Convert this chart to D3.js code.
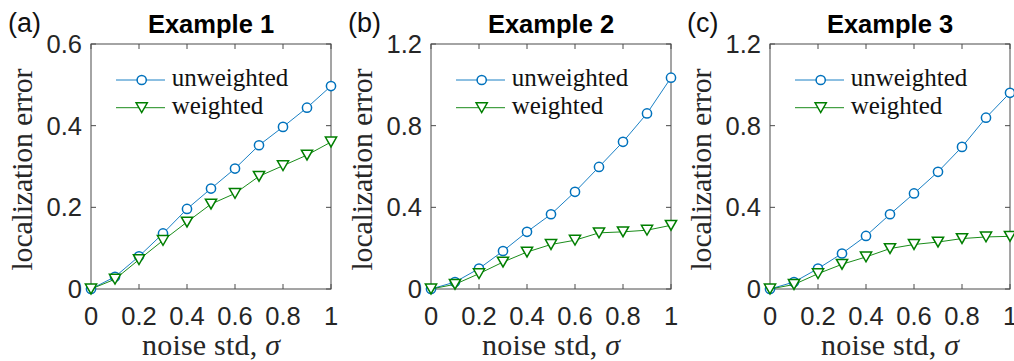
<!DOCTYPE html>
<html>
<head>
<meta charset="utf-8">
<script src="https://cdn.jsdelivr.net/npm/d3@7"></script>
<style>
  html, body { margin: 0; padding: 0; background: #fff; }
  svg { display: block; }
</style>
</head>
<body>
<svg id="chart" width="1014" height="361"></svg>
<script>
// noise levels (x) shared by every panel
const sigma = [0, 0.1, 0.2, 0.3, 0.4, 0.5, 0.6, 0.7, 0.8, 0.9, 1]
const xTicks = [0, 0.2, 0.4, 0.6, 0.8, 1]

const ex1Unweighted = [0, 0.030, 0.080, 0.136, 0.196, 0.246, 0.295, 0.352, 0.397, 0.444, 0.497]
const ex1Weighted = [0, 0.024, 0.072, 0.119, 0.164, 0.208, 0.234, 0.276, 0.302, 0.328, 0.360]
const ex2Unweighted = [0, 0.034, 0.100, 0.186, 0.280, 0.366, 0.476, 0.598, 0.721, 0.860, 1.035]
const ex2Weighted = [0, 0.023, 0.075, 0.132, 0.181, 0.218, 0.239, 0.275, 0.280, 0.288, 0.312]
const ex3Unweighted = [0, 0.034, 0.100, 0.174, 0.260, 0.366, 0.468, 0.574, 0.696, 0.839, 0.961]
const ex3Weighted = [0, 0.022, 0.075, 0.121, 0.157, 0.198, 0.218, 0.230, 0.247, 0.255, 0.258]

const yTicksSmall = [0, 0.2, 0.4, 0.6]
const yTicksLarge = [0, 0.4, 0.8, 1.2]

const panels = [
  { tag: '(a)', title: 'Example 1', left: 91, yMax: 0.6, yTicks: yTicksSmall, unweighted: ex1Unweighted, weighted: ex1Weighted },
  { tag: '(b)', title: 'Example 2', left: 431, yMax: 1.2, yTicks: yTicksLarge, unweighted: ex2Unweighted, weighted: ex2Weighted },
  { tag: '(c)', title: 'Example 3', left: 770, yMax: 1.2, yTicks: yTicksLarge, unweighted: ex3Unweighted, weighted: ex3Weighted }
]

const BLUE = '#0072BD'
const GREEN = '#007F00'
const AXIS = '#4a4a4a'
const SANS = 'Liberation Sans, Arial, Helvetica, sans-serif'
const SERIF = 'Liberation Serif, Times New Roman, serif'

const plotTop = 44
const plotW = 240
const plotH = 245
const tickLen = 5

const svg = d3.select('#chart')

const fmt = d => (d === 0 ? '0' : d === 1 ? '1' : String(d))

function triangle(g, cx, cy) {
  const w = 5.6, h = 4.9
  g.append('path')
    .attr('d', `M${cx - w},${cy - h}L${cx + w},${cy - h}L${cx},${cy + h}Z`)
    .attr('fill', '#fff')
    .attr('stroke', GREEN)
    .attr('stroke-width', 1.5)
}

panels.forEach(p => {
  const g = svg.append('g').attr('transform', `translate(${p.left},${plotTop})`)

  const x = d3.scaleLinear().domain([0, 1]).range([0, plotW])
  const y = d3.scaleLinear().domain([0, p.yMax]).range([plotH, 0])

  // box + inward ticks on all four sides
  g.append('rect')
    .attr('width', plotW).attr('height', plotH)
    .attr('fill', 'none').attr('stroke', AXIS).attr('stroke-width', 1)

  xTicks.forEach(t => {
    g.append('line').attr('x1', x(t)).attr('x2', x(t)).attr('y1', plotH).attr('y2', plotH - tickLen)
      .attr('stroke', AXIS)
    g.append('line').attr('x1', x(t)).attr('x2', x(t)).attr('y1', 0).attr('y2', tickLen)
      .attr('stroke', AXIS)
    g.append('text')
      .attr('x', x(t)).attr('y', plotH + 36)
      .attr('text-anchor', 'middle')
      .style('font-family', SANS).style('font-size', '25.5px').style('fill', '#262626')
      .text(fmt(t))
  })

  p.yTicks.forEach(t => {
    g.append('line').attr('x1', 0).attr('x2', tickLen).attr('y1', y(t)).attr('y2', y(t))
      .attr('stroke', AXIS)
    g.append('line').attr('x1', plotW).attr('x2', plotW - tickLen).attr('y1', y(t)).attr('y2', y(t))
      .attr('stroke', AXIS)
    g.append('text')
      .attr('x', -9).attr('y', y(t) + 9)
      .attr('text-anchor', 'end')
      .style('font-family', SANS).style('font-size', '25.5px').style('fill', '#262626')
      .text(fmt(t))
  })

  // labels
  g.append('text')
    .attr('x', plotW / 2).attr('y', -11)
    .attr('text-anchor', 'middle')
    .style('font-family', SANS).style('font-size', '25.5px').style('font-weight', 'bold')
    .text(p.title)

  g.append('text')
    .attr('x', -83).attr('y', -12)
    .style('font-family', SANS).style('font-size', '27px').style('fill', '#111')
    .text(p.tag)

  g.append('text')
    .attr('transform', `translate(-59,${plotH / 2 + 3}) rotate(-90)`)
    .attr('text-anchor', 'middle')
    .attr('textLength', 202).attr('lengthAdjust', 'spacing')
    .style('font-family', SERIF).style('font-size', '30px').style('fill', '#262626')
    .text('localization error')

  const xl = g.append('text')
    .attr('x', plotW / 2).attr('y', plotH + 66)
    .attr('text-anchor', 'middle')
    .attr('textLength', 138).attr('lengthAdjust', 'spacing')
    .style('font-family', SERIF).style('font-size', '30px').style('fill', '#262626')
  xl.append('tspan').text('noise std, ')
  xl.append('tspan').style('font-style', 'italic').text('σ')

  // series
  const line = d3.line().x((d, i) => x(sigma[i])).y(d => y(d))

  g.append('path').datum(p.unweighted)
    .attr('d', line).attr('fill', 'none').attr('stroke', BLUE).attr('stroke-width', 0.9)
  p.unweighted.forEach((v, i) => {
    g.append('circle').attr('cx', x(sigma[i])).attr('cy', y(v)).attr('r', 4.6)
      .attr('fill', '#fff').attr('stroke', BLUE).attr('stroke-width', 1.5)
  })

  g.append('path').datum(p.weighted)
    .attr('d', line).attr('fill', 'none').attr('stroke', GREEN).attr('stroke-width', 0.9)
  p.weighted.forEach((v, i) => triangle(g, x(sigma[i]), y(v)))

  // legend
  const legend = [
    { label: 'unweighted', color: BLUE, kind: 'circle', cy: 36 },
    { label: 'weighted', color: GREEN, kind: 'tri', cy: 63.7 }
  ]
  legend.forEach(item => {
    g.append('line').attr('x1', 25).attr('x2', 74).attr('y1', item.cy).attr('y2', item.cy)
      .attr('stroke', item.color).attr('stroke-width', 0.9)
    if (item.kind === 'circle') {
      g.append('circle').attr('cx', 50.7).attr('cy', item.cy).attr('r', 4.6)
        .attr('fill', '#fff').attr('stroke', BLUE).attr('stroke-width', 1.5)
    } else {
      triangle(g, 50.7, item.cy)
    }
    g.append('text')
      .attr('x', 80.7).attr('y', item.cy + 6)
      .style('font-family', SERIF).style('font-size', '25px').style('fill', '#111')
      .text(item.label)
  })
})
</script>
</body>
</html>
